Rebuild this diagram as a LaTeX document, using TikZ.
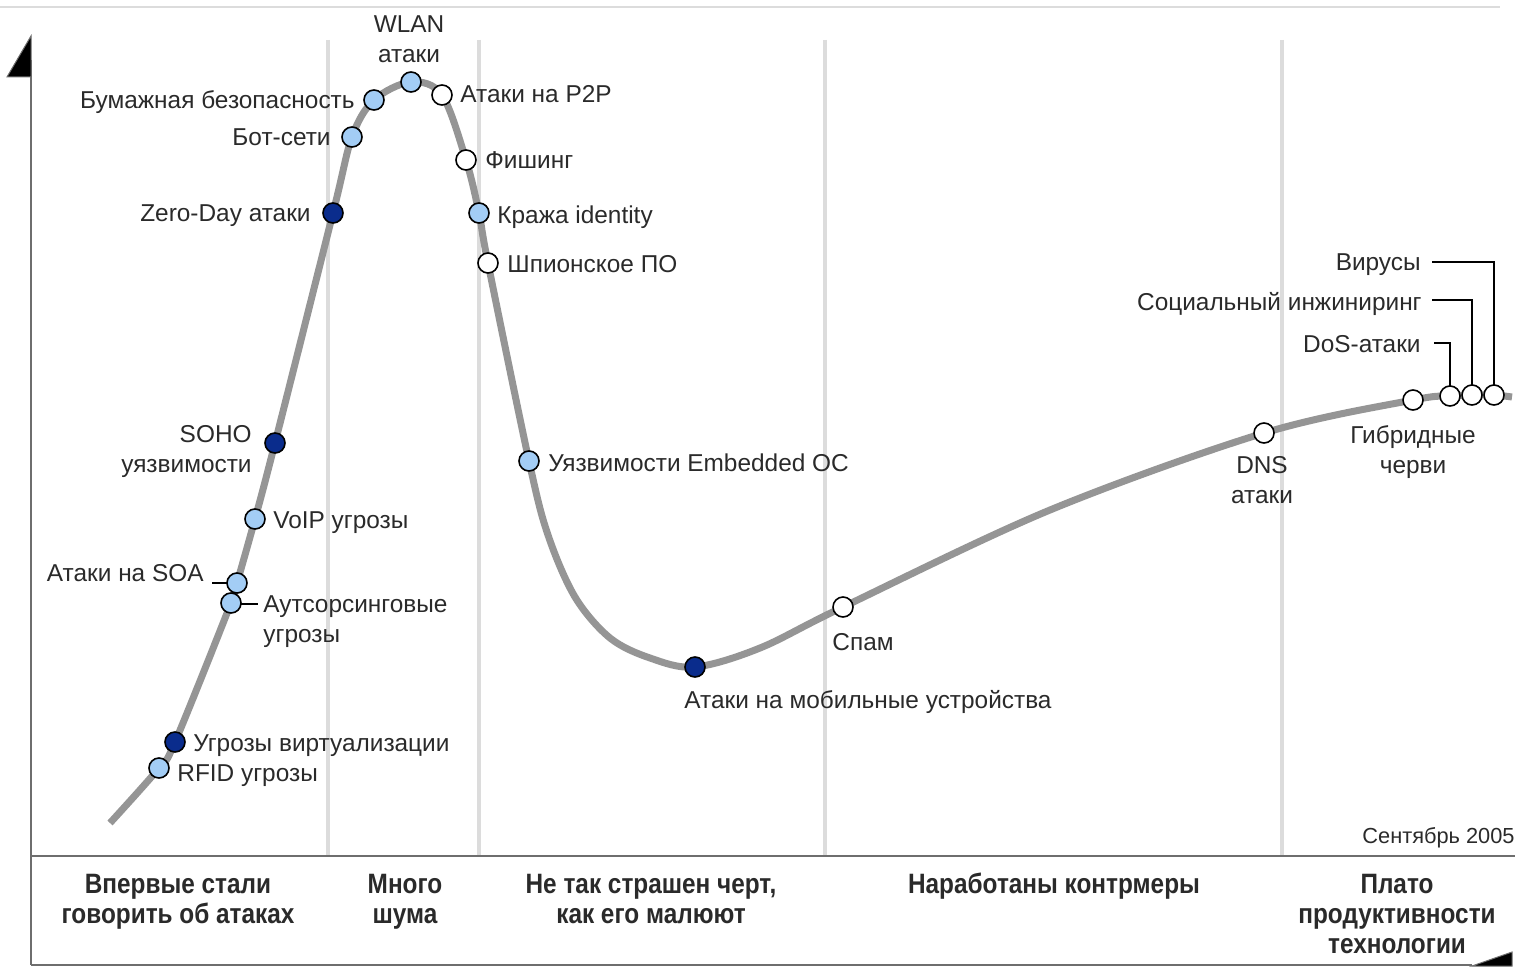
\documentclass[tikz,border=0pt]{standalone}
\usepackage{fontspec}
\setmainfont{Liberation Sans}
\newfontfamily\narrowfont[FakeStretch=0.87]{Liberation Sans}
\usetikzlibrary{calc}
\definecolor{lblue}{HTML}{A3CDF5}
\definecolor{dblue}{HTML}{0A2C8C}
\definecolor{curvegray}{HTML}{959595}
\definecolor{sepgray}{HTML}{DCDCDC}
\definecolor{axisgray}{HTML}{6E6E6E}
\definecolor{txt}{HTML}{2A2A2A}
\tikzset{
  curveline/.style={curvegray, line width=3.5pt, line cap=butt},
  sepline/.style={sepgray, line width=2pt},
  axisline/.style={axisgray, line width=1pt},
  dot/.style={circle, draw=black, line width=0.8pt, minimum size=10pt, inner sep=0pt},
  ldot/.style={dot, fill=lblue},
  ddot/.style={dot, fill=dblue},
  wdot/.style={dot, fill=white},
  lbl/.style={inner sep=0pt, text=txt, font=\fontsize{12.2}{15}\selectfont},
  phase/.style={inner sep=0pt, text=txt, align=center, font=\narrowfont\bfseries\fontsize{14}{15}\selectfont},
  conn/.style={black, line width=0.9pt},
}
\begin{document}
\begin{tikzpicture}[x=0.5pt,y=-0.5pt]
\useasboundingbox (0,0) rectangle (1518,974);
% top thin line
\draw[sepgray, line width=0.6pt] (0,7) -- (1500,7);
% separators
\foreach \x in {328,479,825,1282} \draw[sepline] (\x,40) -- (\x,856);
% axes
\draw[axisline] (31,60) -- (31,965);
\draw[axisline] (31,856) -- (1515,856);
\draw[axisline] (31,965) -- (1472,965);
\filldraw[fill=black, draw=axisgray, line width=0.5pt] (7,77) -- (31,36) -- (31,77) -- cycle;
\filldraw[fill=black, draw=axisgray, line width=0.5pt] (1472,966) -- (1512,966) -- (1512,952) -- cycle;
% curve
\draw[curveline] plot[smooth, tension=0.55] coordinates {
 (110,823) (159,768) (175,742) (231,603) (237,583) (255,519) (275,443)
 (333,213) (352,137) (374,100) (411,82) (442,95) (466,160) (479,213)
 (488,263) (529,461) (548,535) (575,597) (610,638) (650,658) (695,667)
 (760,648) (843,607) (1050,510) (1264,433) (1413,400) (1450,396)
 (1472,395) (1494,395) (1512,397)};
% labels
\node[lbl, align=center, anchor=base] (wlan) at (409,63) {WLAN\\атаки};
\node[lbl, anchor=base east] (paper) at (355,108) {Бумажная безопасность};
\node[lbl, anchor=base east] (bot) at (331,145) {Бот-сети};
\node[lbl, anchor=base east] (zero) at (311,221) {Zero-Day атаки};
\node[lbl, align=right, anchor=base east] (soho) at (252,472) {SOHO\\уязвимости};
\node[lbl, anchor=base west] (voip) at (273,528) {VoIP угрозы};
\node[lbl, anchor=base east] (soa) at (204,581) {Атаки на SOA};
\node[lbl, align=left, anchor=base west] (outs) at (263,642) {Аутсорсинговые\\угрозы};
\node[lbl, anchor=base west] (virt) at (193,751) {Угрозы виртуализации};
\node[lbl, anchor=base west] (rfid) at (177,781) {RFID угрозы};
\node[lbl, anchor=base west] (p2p) at (460,103) {Атаки на P2P};
\node[lbl, anchor=base west] (phish) at (485,168) {Фишинг};
\node[lbl, anchor=base west] (ident) at (497,223) {Кража identity};
\node[lbl, anchor=base west] (spy) at (507,272) {Шпионское ПО};
\node[lbl, anchor=base west] (emb) at (548,471) {Уязвимости Embedded ОС};
\node[lbl, anchor=base west] (mob) at (684,708) {Атаки на мобильные устройства};
\node[lbl, anchor=base west] (spam) at (832,650) {Спам};
\node[lbl, align=center, anchor=base] (dns) at (1262,503) {DNS\\атаки};
\node[lbl, align=center, anchor=base] (hyb) at (1413,473) {Гибридные\\черви};
\node[lbl, anchor=base east] (vir) at (1421,270) {Вирусы};
\node[lbl, anchor=base east] (soc) at (1422,310) {Социальный инжиниринг};
\node[lbl, anchor=base east] (dos) at (1421,352) {DoS-атаки};
\node[lbl, anchor=base east, font=\fontsize{10.9}{13}\selectfont] (date) at (1515,843) {Сентябрь 2005};
% phases
\node[phase, anchor=base] (ph1) at (178,923) {Впервые стали\\говорить об атаках};
\node[phase, anchor=base] (ph2) at (405,923) {Много\\шума};
\node[phase, anchor=base] (ph3) at (651,923) {Не так страшен черт,\\как его малюют};
\node[phase, anchor=base] (ph4) at (1054,893) {Наработаны контрмеры};
\node[phase, anchor=base] (ph5) at (1397,953) {Плато\\продуктивности\\технологии};
% connector free ends
\coordinate (soaC) at (212,583);
\coordinate (outsC) at (258,604);
% connectors (under dots)
\draw[conn] (soaC) -- (237,583);
\draw[conn] (231,604) -- (outsC);
\draw[conn] ([shift={(11,-8)}]vir.base east) -| (1494,395);
\draw[conn] ([shift={(10,-10)}]soc.base east) -| (1472,395);
\draw[conn] ([shift={(13,-9)}]dos.base east) -| (1450,396);
% dots
\node[ldot] (dWlan) at (411,82) {};
\node[ldot] (dPaper) at (374,100) {};
\node[ldot] (dBot) at (352,137) {};
\node[ddot] (dZero) at (333,213) {};
\node[ddot] (dSoho) at (275,443) {};
\node[ldot] (dVoip) at (255,519) {};
\node[ldot] (dSoa) at (237,583) {};
\node[ldot] (dOuts) at (231,603) {};
\node[ddot] (dVirt) at (175,742) {};
\node[ldot] (dRfid) at (159,768) {};
\node[wdot] (dP2p) at (442,95) {};
\node[wdot] (dPhish) at (466,160) {};
\node[ldot] (dIdent) at (479,213) {};
\node[wdot] (dSpy) at (488,263) {};
\node[ldot] (dEmb) at (529,461) {};
\node[ddot] (dMob) at (695,667) {};
\node[wdot] (dSpam) at (843,607) {};
\node[wdot] (dDns) at (1264,433) {};
\node[wdot] (dHyb) at (1413,400) {};
\node[wdot] (dDos) at (1450,396) {};
\node[wdot] (dSoc) at (1472,395) {};
\node[wdot] (dVir) at (1494,395) {};
\end{tikzpicture}
\end{document}
